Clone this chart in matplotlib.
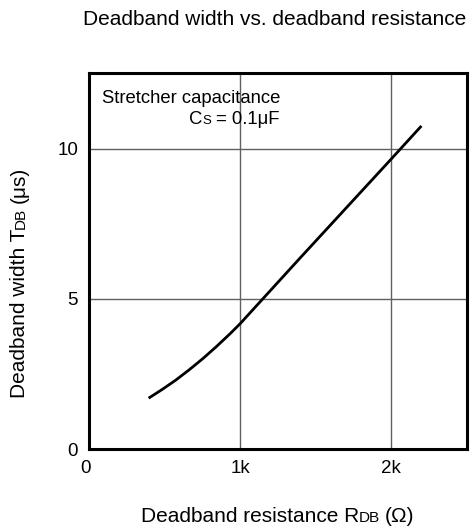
import matplotlib
matplotlib.use("Agg")
import matplotlib.pyplot as plt
from matplotlib.transforms import ScaledTranslation

plt.rcParams['font.family'] = ['Liberation Sans', 'DejaVu Sans']

# curve: deadband resistance (ohm) vs deadband width (us)
r_db = [393, 480, 570, 661, 751, 841, 932, 1000, 1100, 1200, 1400, 1600, 1800, 2000, 2200]
t_db = [1.70, 1.98, 2.29, 2.64, 3.01, 3.41, 3.84, 4.18, 4.73, 5.28, 6.38, 7.47, 8.56, 9.65, 10.75]

x_ticks = [0, 1000, 2000]
x_labels = ['0', '1k', '2k']
y_ticks = [0, 5, 10]
y_labels = ['0', '5', '10']

W, H = 471, 531
fig = plt.figure(figsize=(W / 100, H / 100), dpi=100)
ax = fig.add_axes([89.3 / W, 81.7 / H, 377.4 / W, 376 / H])

ax.plot(r_db, t_db, color='black', lw=2.0, solid_capstyle='butt')
ax.set_xlim(0, 2500)
ax.set_ylim(0, 12.5)
ax.set_xticks(x_ticks)
ax.set_xticklabels(x_labels)
ax.set_yticks(y_ticks)
ax.set_yticklabels(y_labels)
ax.tick_params(length=0, labelsize=13.5, pad=8)
ax.grid(True, color='#606060', lw=1.0)
for s in ax.spines.values():
    s.set_linewidth(2.2)
    s.set_color('black')
    s.set_zorder(5)

# the "0" under the x axis sits a little left of the corner
lbl0 = ax.get_xticklabels()[0]
lbl0.set_transform(lbl0.get_transform() + ScaledTranslation(-4 / 100, 0, fig.dpi_scale_trans))

renderer = fig.canvas.get_renderer()


def text_width(s, size):
    t = fig.text(0, 0, s, fontsize=size)
    w = t.get_window_extent(renderer).width
    t.remove()
    return w


def draw_run(pieces, x, y, rotation=0, align='left'):
    # pieces: (text, fontsize, gap before in px); x, y in figure pixels (baseline)
    widths = [text_width(s, fs) for s, fs, g in pieces]
    total = sum(widths) + sum(g for s, fs, g in pieces)
    pos = 0
    if align == 'center':
        pos = -total / 2
    elif align == 'right':
        pos = -total
    for (s, fs, g), w in zip(pieces, widths):
        pos += g
        if rotation == 90:
            px, py = x, y + pos
        else:
            px, py = x + pos, y
        fig.text(px / W, py / H, s, fontsize=fs, rotation=rotation,
                 rotation_mode='anchor', ha='left', va='baseline')
        pos += w


fig.text(275 / W, 506 / H, 'Deadband width vs. deadband resistance',
         fontsize=15, ha='center', va='baseline')

draw_run([('Deadband resistance R', 15, 0), ('DB', 11, 0), ('(Ω)', 15, 5)],
         277.6, 9.3, align='center')
draw_run([('Deadband width T', 15, 0), ('DB', 11, 0), ('(μs)', 15, 5)],
         25, 248.5, rotation=90, align='center')

draw_run([('Stretcher capacitance', 13.3, 0)], 280, 428.3, align='right')
draw_run([('C', 13.3, 0), ('S', 9.5, 0), ('= 0.1μF', 13.3, 5)],
         280, 407, align='right')

fig.savefig('out.png', dpi=100)
